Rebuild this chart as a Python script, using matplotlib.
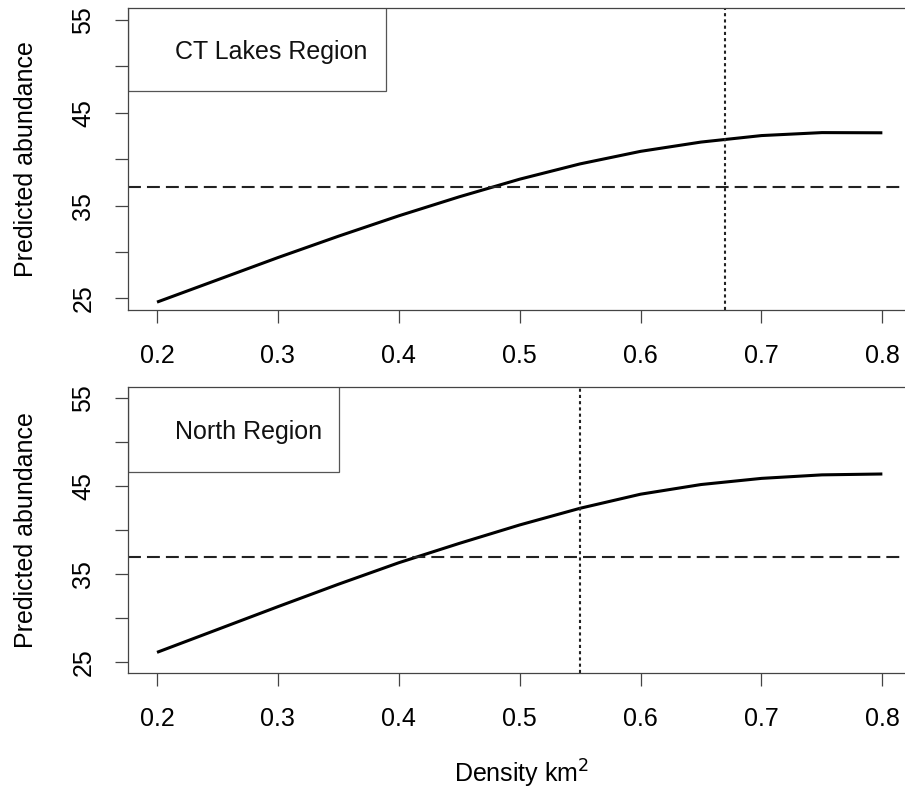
import matplotlib.pyplot as plt
from matplotlib.patches import Rectangle

plt.rcParams['font.family'] = ['Liberation Sans', 'DejaVu Sans']

density = [0.2, 0.25, 0.3, 0.35, 0.4, 0.45, 0.5, 0.55, 0.6, 0.65, 0.7, 0.75, 0.8]
ct_lakes = [24.6, 27.0, 29.4, 31.7, 33.9, 35.95, 37.85, 39.5, 40.85, 41.85, 42.55, 42.87, 42.85]
north = [26.1, 28.7, 31.3, 33.85, 36.3, 38.5, 40.6, 42.5, 44.1, 45.2, 45.9, 46.3, 46.4]

regions = ['CT Lakes Region', 'North Region']
curves = [ct_lakes, north]
optimum = [0.67, 0.55]
threshold = 37

x_ticks = [0.2, 0.3, 0.4, 0.5, 0.6, 0.7, 0.8]
y_ticks = [25, 30, 35, 40, 45, 50, 55]
y_labels = ['25', '', '35', '', '45', '', '55']

fig = plt.figure(figsize=(9.05, 7.92), dpi=100)

# axes boxes in pixels: left, top, bottom (right edge runs off the figure)
W, H = 905, 792
boxes = [(128, 8, 310), (128, 387, 673)]
legend_box = [(0.3274, 0.726, 0.855), (0.268, 0.704, 0.844)]

for i in range(2):
    left, top, bottom = boxes[i]
    ax = fig.add_axes([left / W, 1 - bottom / H, (915 - left) / W, (bottom - top) / H])
    ax.plot(density, curves[i], color='black', lw=2.2, solid_capstyle='butt',
            solid_joinstyle='round')
    ax.axhline(threshold, color='#222222', lw=1.5, linestyle=(0, (6.2, 2.9)))
    ax.axvline(optimum[i], color='#222222', lw=1.5, linestyle=(0, (1.5, 1.5)))

    ax.set_xlim(0.176, 0.827)
    ax.set_ylim(23.75, 56.3)
    ax.set_xticks(x_ticks)
    ax.set_xticklabels(['%.1f' % v for v in x_ticks])
    ax.set_yticks(y_ticks)
    ax.set_yticklabels(y_labels, rotation=90, va='center')
    ax.tick_params(length=9.5, width=0.9, color='#444444', labelsize=18, pad=14)
    ax.tick_params(axis='x', pad=15)
    for s in ax.spines.values():
        s.set_color('#444444')
        s.set_linewidth(0.9)
    ax.spines['right'].set_visible(False)
    ax.set_ylabel('Predicted abundance', fontsize=18, labelpad=24)

    # legend box (R style, no symbols)
    rx, ry, ty = legend_box[i]
    ax.add_patch(Rectangle((0, ry), rx, 1.05 - ry, transform=ax.transAxes,
                           fill=False, edgecolor='#555555', lw=0.9, clip_on=True))
    ax.text(0.060, ty, regions[i], transform=ax.transAxes, fontsize=18,
            va='center', ha='left', color='#111111')

    if i == 1:
        ax.set_xlabel('Density km$^2$', fontsize=18, labelpad=19)

fig.savefig('out.png', dpi=100)
